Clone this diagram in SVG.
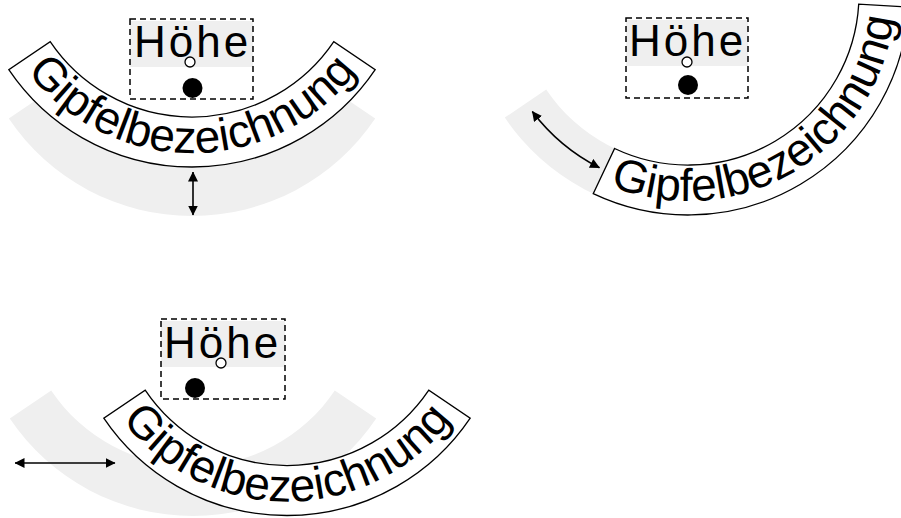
<svg xmlns="http://www.w3.org/2000/svg" width="901" height="518" viewBox="0 0 901 518">
  <style>
    .ghost { fill: #efefef; }
    .band { fill: #fff; stroke: #000; stroke-width: 1.3; }
    .lbl { font-family: "Liberation Sans", Arial, sans-serif; font-size: 46px; fill: #000; }
    .peak { font-family: "Liberation Sans", Arial, sans-serif; font-size: 44px; fill: #000; letter-spacing: 3px; }
    .frame { fill: none; stroke: #000; stroke-width: 1.5; stroke-dasharray: 6 4; }
    .hl { fill: #efefef; }
    .anchor { fill: #000; }
    .ring { fill: #fff; stroke: #000; stroke-width: 1.3; }
    .dim { fill: none; stroke: #000; stroke-width: 1.6; marker-start: url(#ah); marker-end: url(#ah); }
  </style>
  <defs>
    <!-- annular sector, centre at origin, +/-56 deg around straight down -->
    <path id="bandShape" d="M-141.8,95.6 A171,171 0 0 0 141.8,95.6 L183.2,123.6 A221,221 0 0 1 -183.2,123.6 Z"/>
    <!-- text baseline inside the sector -->
    <path id="baseline" d="M-179.3,103.5 A207,207 0 0 0 179.3,103.5"/>
    <marker id="ah" viewBox="0 0 10 10" refX="9.5" refY="5" markerWidth="10" markerHeight="10" markerUnits="userSpaceOnUse" orient="auto-start-reverse">
      <path d="M0,0 L10,5 L0,10 Z" fill="#000"/>
    </marker>
  </defs>

  <!-- original placements -->
  <g id="ghosts">
    <use href="#bandShape" class="ghost" transform="translate(192,-5)"/>
    <use href="#bandShape" class="ghost" transform="translate(688,-6)"/>
    <use href="#bandShape" class="ghost" transform="translate(193,295)"/>
  </g>

  <!-- displaced labels -->
  <g id="label-up" transform="translate(192,-54)">
    <use href="#bandShape" class="band"/>
    <text class="lbl"><textPath href="#baseline" startOffset="50%" text-anchor="middle">Gipfelbezeichnung</textPath></text>
  </g>
  <g id="label-along" transform="translate(688,-6) rotate(-30.6)">
    <use href="#bandShape" class="band"/>
    <text class="lbl"><textPath href="#baseline" startOffset="50%" text-anchor="middle">Gipfelbezeichnung</textPath></text>
  </g>
  <g id="label-side" transform="translate(287,294.5)">
    <use href="#bandShape" class="band"/>
    <text class="lbl"><textPath href="#baseline" startOffset="50%" text-anchor="middle">Gipfelbezeichnung</textPath></text>
  </g>

  <!-- elevation labels with their points -->
  <g id="height-1">
    <rect class="hl" x="130" y="21" width="123" height="46"/>
    <rect class="frame" x="130" y="19" width="123" height="80"/>
    <text class="peak" x="134" y="57">Höhe</text>
    <circle class="ring" cx="190" cy="62" r="5"/>
    <circle class="anchor" cx="192.5" cy="88" r="10"/>
  </g>
  <g id="height-2">
    <rect class="hl" x="626" y="20" width="122" height="46"/>
    <rect class="frame" x="626" y="18" width="122" height="80"/>
    <text class="peak" x="629" y="56">Höhe</text>
    <circle class="ring" cx="687" cy="62" r="5"/>
    <circle class="anchor" cx="688" cy="85" r="10"/>
  </g>
  <g id="height-3">
    <rect class="hl" x="161" y="321" width="124" height="46"/>
    <rect class="frame" x="161" y="319" width="124" height="80"/>
    <text class="peak" x="164" y="358">Höhe</text>
    <circle class="ring" cx="221" cy="363" r="5"/>
    <circle class="anchor" cx="195" cy="388" r="10"/>
  </g>

  <!-- displacement arrows -->
  <g id="connectors">
    <path class="dim" d="M193,172 V215"/>
    <path class="dim" d="M532.3,111.4 A195,195 0 0 0 599.5,167.7"/>
    <path class="dim" d="M15,463 H115"/>
  </g>
</svg>
